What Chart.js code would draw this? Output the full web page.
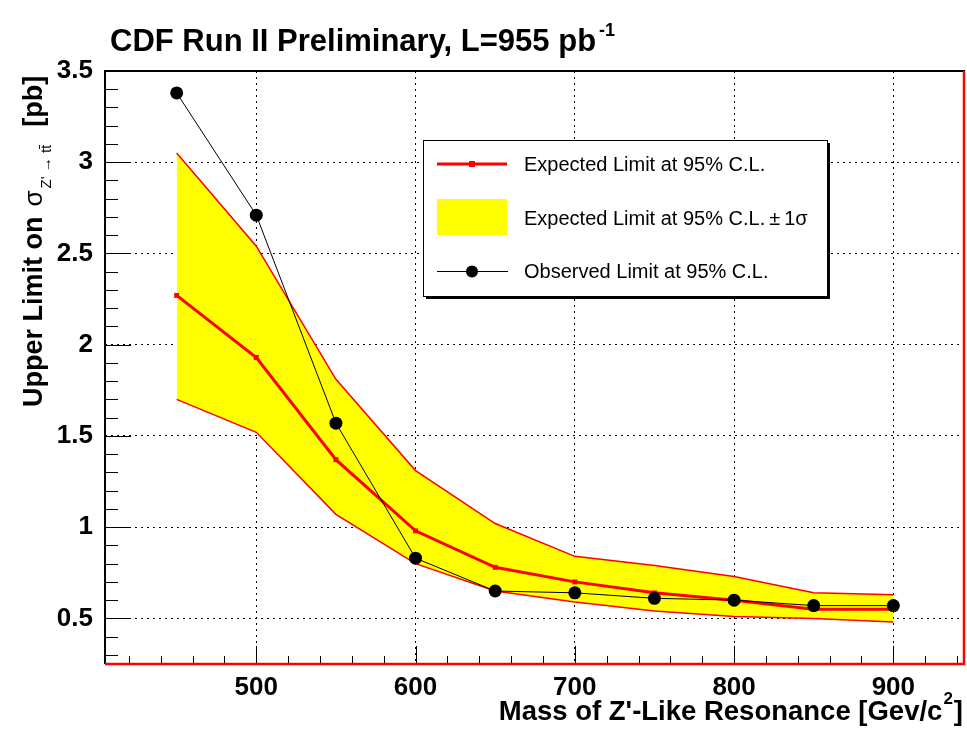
<!DOCTYPE html>
<html>
<head>
<meta charset="utf-8">
<script src="https://cdn.jsdelivr.net/npm/chart.js@4/dist/chart.umd.min.js"></script>
<style>
  html, body { margin: 0; padding: 0; background: #fff; }
  #wrap { width: 967px; height: 730px; }
</style>
</head>
<body>
<div id="wrap"><canvas id="limits" width="967" height="730"></canvas></div>
<script>
// Z' mass points (GeV/c^2) and limits (pb)
const masses   = [450, 500, 550, 600, 650, 700, 750, 800, 850, 900];
const observed = [3.38, 2.71, 1.57, 0.83, 0.65, 0.64, 0.61, 0.60, 0.57, 0.57];
const expected = [2.27, 1.93, 1.37, 0.98, 0.78, 0.70, 0.64, 0.60, 0.55, 0.55];
const bandUp   = [3.05, 2.54, 1.81, 1.31, 1.02, 0.84, 0.79, 0.73, 0.64, 0.63];
const bandDown = [1.70, 1.52, 1.07, 0.80, 0.65, 0.59, 0.54, 0.51, 0.50, 0.48];
const xTicks = [500, 600, 700, 800, 900];
const yTicks = [0.5, 1, 1.5, 2, 2.5, 3, 3.5];

const FONT = '"Liberation Sans", Arial, Helvetica, sans-serif';
const pts = arr => masses.map((m, i) => ({x: m, y: arr[i]}));

// inward ROOT-style ticks and the frame
const frame = {
  id: 'frame',
  afterDatasetsDraw(chart) {
    const {ctx, chartArea: a, scales: {x, y}} = chart;
    ctx.save();
    ctx.strokeStyle = '#000';
    ctx.lineWidth = 1;
    ctx.beginPath();
    for (let i = 3; i <= 34; i++) {
      const py = Math.round(y.getPixelForValue(i / 10)) + 0.5;
      const len = i % 5 === 0 ? 26 : 13;
      ctx.moveTo(a.left, py);
      ctx.lineTo(a.left + len, py);
    }
    for (let m = 420; m <= 940; m += 20) {
      const px = Math.round(x.getPixelForValue(m)) + 0.5;
      const len = m % 100 === 0 ? 18 : 8;
      ctx.moveTo(px, a.bottom);
      ctx.lineTo(px, a.bottom - len);
    }
    ctx.stroke();

    ctx.lineWidth = 2;
    ctx.beginPath();
    ctx.moveTo(a.left, a.bottom);
    ctx.lineTo(a.left, a.top);
    ctx.lineTo(a.right, a.top);
    ctx.stroke();
    ctx.strokeStyle = '#ff0000';
    ctx.lineWidth = 2.5;
    ctx.beginPath();
    ctx.moveTo(a.left, a.bottom);
    ctx.lineTo(a.right - 1, a.bottom);
    ctx.lineTo(a.right - 1, a.top);
    ctx.stroke();
    ctx.restore();
  }
};

// titles and legend box
const decor = {
  id: 'decor',
  afterDraw(chart) {
    const ctx = chart.ctx;
    ctx.save();
    ctx.fillStyle = '#000';
    ctx.textBaseline = 'alphabetic';

    // main title
    ctx.font = 'bold 31px ' + FONT;
    let t = 'CDF Run II Preliminary, L=955 pb';
    ctx.fillText(t, 110, 51);
    let w = ctx.measureText(t).width;
    ctx.font = 'bold 18px ' + FONT;
    ctx.fillText('-1', 113 + w, 36);

    // x title, right aligned
    const xa = 'Mass of Z\'-Like Resonance [Gev/c';
    ctx.font = 'bold 27.5px ' + FONT;
    const w1 = ctx.measureText(xa).width;
    const w3 = ctx.measureText(']').width;
    ctx.font = 'bold 17px ' + FONT;
    const w2 = ctx.measureText('2').width;
    let x0 = 963 - w1 - w2 - w3 - 2;
    ctx.font = 'bold 27.5px ' + FONT;
    ctx.fillText(xa, x0, 720);
    ctx.fillText(']', x0 + w1 + w2 + 2, 720);
    ctx.font = 'bold 17px ' + FONT;
    ctx.fillText('2', x0 + w1 + 1, 704);

    // y title, rotated
    ctx.translate(42, 407);
    ctx.rotate(-Math.PI / 2);
    let cx = 0;
    ctx.font = 'bold 27px ' + FONT;
    ctx.fillText('Upper Limit on', cx, 0);
    cx += ctx.measureText('Upper Limit on').width + 10;
    ctx.font = '26px ' + FONT;
    ctx.fillText('\u03c3', cx, 0);
    cx += ctx.measureText('\u03c3').width + 2;
    ctx.font = '15px ' + FONT;
    const sub = 'Z\' \u2192 tt\u0304';
    ctx.fillText(sub, cx, 9);
    cx += ctx.measureText(sub).width + 18;
    ctx.font = 'bold 27px ' + FONT;
    ctx.fillText('[pb]', cx, 0);
    ctx.setTransform(1, 0, 0, 1, 0, 0);

    // legend
    const L = {x: 423, y: 140, w: 404, h: 156};
    ctx.fillStyle = '#000';
    ctx.fillRect(L.x + 3, L.y + 3, L.w, L.h);
    ctx.fillStyle = '#fff';
    ctx.fillRect(L.x, L.y, L.w, L.h);
    ctx.strokeStyle = '#000';
    ctx.lineWidth = 1;
    ctx.strokeRect(L.x + 0.5, L.y + 0.5, L.w, L.h);

    const ds = chart.data.datasets;
    // expected
    ctx.strokeStyle = ds[1].borderColor;
    ctx.lineWidth = ds[1].borderWidth;
    ctx.beginPath(); ctx.moveTo(437, 164); ctx.lineTo(507, 164); ctx.stroke();
    ctx.fillStyle = ds[1].pointBackgroundColor;
    ctx.fillRect(469, 161, 6, 6);
    // band
    ctx.fillStyle = ds[3].backgroundColor;
    ctx.fillRect(437, 199, 70, 36);
    // observed
    ctx.strokeStyle = ds[0].borderColor;
    ctx.lineWidth = ds[0].borderWidth;
    ctx.beginPath(); ctx.moveTo(437, 271.5); ctx.lineTo(508, 271.5); ctx.stroke();
    ctx.fillStyle = ds[0].pointBackgroundColor;
    ctx.beginPath(); ctx.arc(472, 271.5, 6, 0, Math.PI * 2); ctx.fill();

    ctx.fillStyle = '#000';
    ctx.font = '20px ' + FONT;
    ctx.textBaseline = 'middle';
    ctx.fillText('Expected Limit at 95% C.L.', 524, 165);
    ctx.fillText('Expected Limit at 95% C.L.\u2009\u00b1\u20091\u03c3', 524, 219);
    ctx.fillText('Observed Limit at 95% C.L.', 524, 272);
    ctx.restore();
  }
};

new Chart(document.getElementById('limits'), {
  type: 'line',
  data: {
    datasets: [
      {
        label: 'Observed Limit at 95% C.L.',
        data: pts(observed),
        borderColor: '#000',
        borderWidth: 1,
        pointStyle: 'circle',
        pointRadius: 6.5,
        pointBackgroundColor: '#000',
        pointBorderWidth: 0,
        fill: false
      },
      {
        label: 'Expected Limit at 95% C.L.',
        data: pts(expected),
        borderColor: '#ff0000',
        borderWidth: 3,
        pointStyle: 'rect',
        pointRadius: 3.5,
        pointBackgroundColor: '#ff0000',
        pointBorderWidth: 0,
        fill: false
      },
      {
        label: 'band low',
        data: pts(bandDown),
        borderColor: '#ff0000',
        borderWidth: 1.5,
        pointRadius: 0,
        fill: false
      },
      {
        label: 'Expected Limit at 95% C.L. \u00b1 1\u03c3',
        data: pts(bandUp),
        borderColor: '#ff0000',
        borderWidth: 1.5,
        backgroundColor: '#ffff00',
        pointRadius: 0,
        fill: '-1'
      }
    ]
  },
  options: {
    responsive: false,
    animation: false,
    devicePixelRatio: 1,
    layout: { autoPadding: false, padding: { top: 71, right: 2, left: 0, bottom: 0 } },
    elements: { line: { tension: 0 } },
    plugins: {
      legend: { display: false },
      tooltip: { enabled: false },
      title: { display: false }
    },
    scales: {
      x: {
        type: 'linear',
        min: 405,
        max: 945,
        afterBuildTicks: s => { s.ticks = xTicks.map(v => ({value: v})); },
        afterFit: s => { s.height = 66; s.paddingLeft = 0; s.paddingRight = 0; },
        grid: { color: '#000', lineWidth: 1, drawTicks: false },
        border: { display: false, dash: [2, 4] },
        ticks: {
          padding: 8,
          color: '#000',
          font: { family: FONT, size: 26, weight: 'bold' },
          maxRotation: 0
        }
      },
      y: {
        type: 'linear',
        min: 0.25,
        max: 3.5,
        afterBuildTicks: s => { s.ticks = yTicks.map(v => ({value: v})); },
        afterFit: s => { s.width = 105; s.paddingTop = 0; s.paddingBottom = 0; },
        grid: { color: '#000', lineWidth: 1, drawTicks: false },
        border: { display: false, dash: [2, 4] },
        ticks: {
          padding: 12,
          color: '#000',
          font: { family: FONT, size: 26, weight: 'bold' },
          callback: v => String(v)
        }
      }
    }
  },
  plugins: [frame, decor]
});
</script>
</body>
</html>
